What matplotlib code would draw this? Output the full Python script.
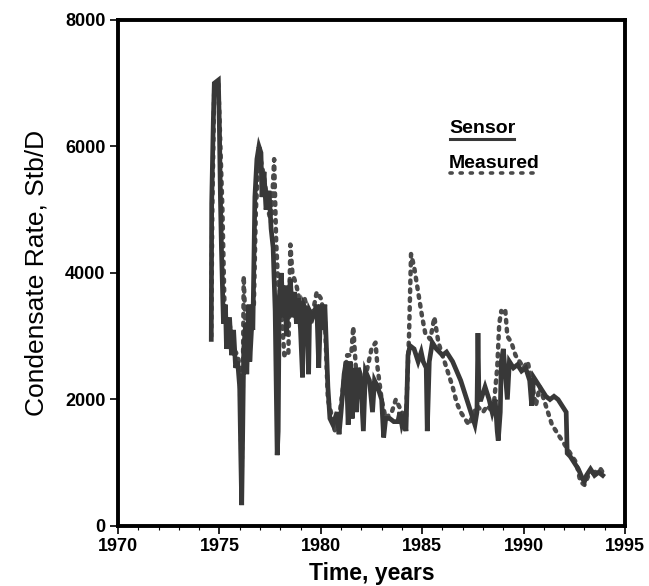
import matplotlib
matplotlib.use("Agg")
import matplotlib.pyplot as plt
from matplotlib.ticker import MultipleLocator

# ---------------- data ----------------
sensor_years = [1974.60, 1974.62, 1974.70, 1974.75, 1974.95, 1975.00, 1975.05, 1975.10, 1975.20, 1975.30,
                1975.35, 1975.50, 1975.60, 1975.70, 1975.80, 1975.90, 1976.00, 1976.05, 1976.10, 1976.15,
                1976.20, 1976.30, 1976.35, 1976.45, 1976.50, 1976.60, 1976.65, 1976.70, 1976.75, 1976.85,
                1976.95, 1977.05, 1977.10, 1977.20, 1977.30, 1977.45, 1977.55, 1977.65, 1977.75, 1977.85,
                1977.90, 1977.95, 1978.05, 1978.15, 1978.25, 1978.30, 1978.40, 1978.50, 1978.60, 1978.70,
                1978.80, 1978.90, 1979.00, 1979.10, 1979.15, 1979.30, 1979.40, 1979.45, 1979.60, 1979.80,
                1979.90, 1980.00, 1980.10, 1980.20, 1980.35, 1980.45, 1980.60, 1980.80, 1980.90, 1981.00,
                1981.15, 1981.25, 1981.35, 1981.45, 1981.55, 1981.65, 1981.75, 1981.85, 1981.95, 1982.10,
                1982.20, 1982.40, 1982.55, 1982.65, 1982.80, 1983.00, 1983.10, 1983.20, 1983.40, 1983.60,
                1983.80, 1983.90, 1984.00, 1984.10, 1984.20, 1984.30, 1984.40, 1984.60, 1984.80, 1984.95,
                1985.05, 1985.20, 1985.25, 1985.35, 1985.50, 1985.70, 1986.00, 1986.20, 1986.50, 1986.70,
                1986.90, 1987.10, 1987.30, 1987.50, 1987.60, 1987.70, 1987.75, 1987.80, 1987.90, 1988.10,
                1988.30, 1988.45, 1988.60, 1988.70, 1988.75, 1988.85, 1988.90, 1989.00, 1989.10, 1989.20,
                1989.30, 1989.50, 1989.70, 1989.90, 1990.10, 1990.30, 1990.40, 1990.50, 1990.70, 1990.90,
                1991.10, 1991.30, 1991.50, 1991.70, 1991.90, 1992.00, 1992.10, 1992.15, 1992.30, 1992.50,
                1992.70, 1992.90, 1993.00, 1993.10, 1993.30, 1993.50, 1993.70, 1993.90]
sensor_rate = [2950, 5100, 6400, 7000, 7050, 6300, 5200, 4400, 3200, 3500,
               2800, 3300, 2700, 3100, 2500, 2600, 2200, 1200, 330, 1500,
               2800, 3200, 2400, 3500, 2600, 3200, 3100, 4200, 5200, 5800,
               6000, 5900, 5200, 5600, 5000, 5300, 4700, 4400, 3400, 1120,
               1500, 3600, 4000, 3300, 3800, 3000, 3500, 3900, 3300, 3700,
               3200, 3600, 3100, 2350, 3500, 3400, 2400, 3400, 3300, 3500,
               2500, 3500, 3100, 3500, 2200, 1700, 1600, 1800, 1450, 1800,
               2400, 2600, 1600, 2600, 1700, 2500, 1800, 2500, 2400, 1500,
               2450, 2300, 1800, 2300, 2200, 2000, 1400, 1700, 1700, 1650,
               1650, 1800, 1600, 1700, 1500, 2700, 2850, 2800, 2600, 2750,
               2600, 2500, 1500, 2600, 2900, 2800, 2700, 2750, 2600, 2450,
               2300, 2100, 1900, 1700, 1600, 1800, 3050, 2000, 2000, 2200,
               2000, 1800, 2000, 1500, 1350, 1800, 2600, 2800, 2400, 2000,
               2600, 2500, 2550, 2450, 2500, 2300, 1900, 2350, 2250, 2150,
               2050, 2000, 2050, 2000, 1900, 1850, 1800, 1150, 1100, 1000,
               900, 750, 700, 800, 900, 800, 850, 800]

measured_years = [1974.60, 1974.65, 1974.75, 1974.95, 1975.05, 1975.15, 1975.25, 1975.40, 1975.50, 1975.70,
                  1975.90, 1976.00, 1976.10, 1976.15, 1976.20, 1976.30, 1976.50, 1976.70, 1976.80, 1976.95,
                  1977.10, 1977.20, 1977.30, 1977.40, 1977.55, 1977.70, 1977.80, 1977.90, 1978.00, 1978.20,
                  1978.40, 1978.50, 1978.60, 1978.80, 1979.00, 1979.20, 1979.50, 1979.80, 1980.00, 1980.20,
                  1980.35, 1980.50, 1980.70, 1980.90, 1981.10, 1981.30, 1981.50, 1981.60, 1981.75, 1982.00,
                  1982.30, 1982.50, 1982.70, 1982.80, 1983.00, 1983.20, 1983.50, 1983.70, 1984.00, 1984.20,
                  1984.35, 1984.45, 1984.60, 1984.75, 1984.90, 1985.00, 1985.15, 1985.40, 1985.60, 1985.80,
                  1986.00, 1986.30, 1986.50, 1986.70, 1986.90, 1987.10, 1987.30, 1987.50, 1987.70, 1988.00,
                  1988.20, 1988.50, 1988.70, 1988.80, 1988.90, 1989.00, 1989.10, 1989.20, 1989.40, 1989.60,
                  1989.80, 1990.00, 1990.20, 1990.40, 1990.60, 1990.80, 1991.00, 1991.20, 1991.40, 1991.60,
                  1991.80, 1992.00, 1992.20, 1992.40, 1992.60, 1992.80, 1993.00, 1993.20, 1993.50, 1993.80,
                  1994.00]
measured_rate = [3000, 5000, 7000, 7000, 6000, 5000, 3500, 3000, 3200, 2800,
                 2700, 2500, 800, 2000, 3950, 3000, 3300, 3500, 5000, 5900,
                 5700, 5500, 5300, 5000, 4800, 5800, 4500, 3800, 3700, 2700,
                 2700, 4450, 4000, 3800, 3500, 3600, 3200, 3700, 3600, 3300,
                 2000, 1800, 1500, 1700, 2200, 2700, 2700, 3150, 2400, 2100,
                 2500, 2800, 2900, 2500, 2000, 1700, 1800, 2000, 1800, 1700,
                 3000, 4300, 4100, 3800, 3500, 3300, 3050, 2950, 3300, 2900,
                 2700, 2400, 2200, 1950, 1800, 1700, 1600, 1750, 1900, 1800,
                 1900, 1800, 2500, 3200, 3400, 3350, 3400, 3000, 2900, 2700,
                 2600, 2500, 2600, 2300, 1900, 2200, 2000, 1800, 1600, 1500,
                 1400, 1300, 1200, 1100, 1000, 700, 650, 800, 850, 900,
                 800]

x_ticks = [1970, 1975, 1980, 1985, 1990, 1995]
y_ticks = [0, 2000, 4000, 6000, 8000]
legend_labels = ["Sensor", "Measured"]

# ---------------- figure ----------------
plt.rcParams['font.family'] = ['Liberation Sans', 'DejaVu Sans']
fig = plt.figure(figsize=(6.49, 5.86), dpi=100)
ax = fig.add_axes([0.1818, 0.1024, 0.7812, 0.8635])

data_col = '#383838'
meas_col = '#4a4a4a'
ax.plot(measured_years, measured_rate, color=meas_col, lw=3.2,
        linestyle=(0, (0.6, 1.4)), dash_capstyle='round', zorder=2)
ax.plot(sensor_years, sensor_rate, color=data_col, lw=3.4,
        solid_joinstyle='miter', zorder=3)

ax.set_xlim(1970, 1995)
ax.set_ylim(0, 8000)
ax.set_xticks(x_ticks)
ax.set_yticks(y_ticks)
ax.xaxis.set_minor_locator(MultipleLocator(1))
ax.tick_params(axis='both', which='major', direction='out', length=6, width=1.2,
               labelsize=13, pad=3)
ax.tick_params(axis='x', which='minor', direction='out', length=3, width=0.8)
for lab in ax.get_xticklabels() + ax.get_yticklabels():
    lab.set_fontweight('bold')

for s in ax.spines.values():
    s.set_linewidth(2.8)
    s.set_color('black')

ax.set_xlabel('Time, years', fontsize=16.5, fontweight='bold', labelpad=5)
ax.set_ylabel('Condensate Rate, Stb/D', fontsize=19, labelpad=12)

# custom legend
ax.text(0.653, 0.777, legend_labels[0], transform=ax.transAxes, fontsize=14,
        fontweight='bold', ha='left', va='baseline')
ax.plot([0.655, 0.782], [0.765, 0.765], transform=ax.transAxes, color=data_col,
        lw=2.2, clip_on=False)
ax.text(0.653, 0.708, legend_labels[1], transform=ax.transAxes, fontsize=14,
        fontweight='bold', ha='left', va='baseline')
ax.plot([0.655, 0.825], [0.697, 0.697], transform=ax.transAxes, color=meas_col,
        lw=2.6, linestyle=(0, (0.6, 2.2)), dash_capstyle='round', clip_on=False)

fig.savefig('out.png', dpi=100)
